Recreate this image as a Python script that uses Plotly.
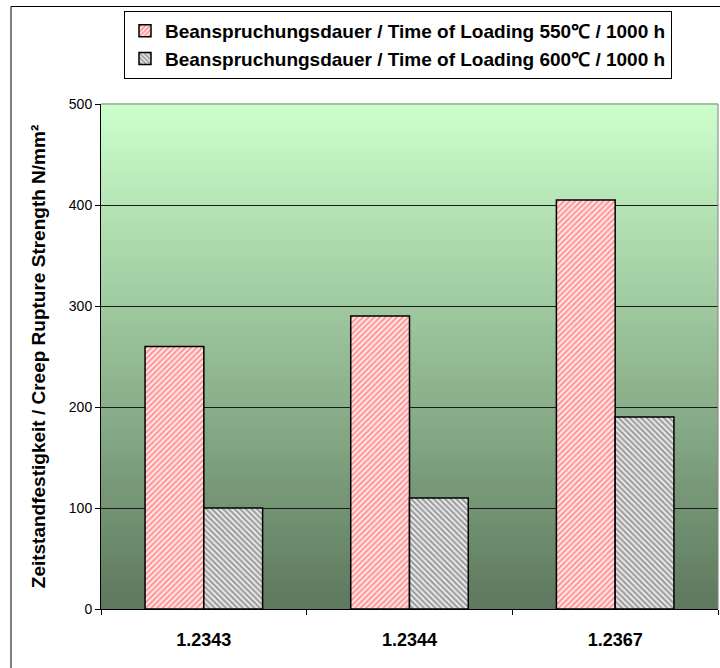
import plotly.graph_objects as go

# Creep rupture strength of hot-work tool steels after 1000 h
grades = ["1.2343", "1.2344", "1.2367"]
strength_550 = [260, 290, 405]
strength_600 = [100, 110, 190]
series_names = [
    "Beanspruchungsdauer / Time of Loading 550℃ / 1000 h",
    "Beanspruchungsdauer / Time of Loading 600℃ / 1000 h",
]
y_ticks = [0, 100, 200, 300, 400, 500]

W, H = 720, 668
ML, MR, MT, MB = 101, 2, 104, 59
PW = W - ML - MR
PH = H - MT - MB

FONT = "Arial, Liberation Sans, sans-serif"

fig = go.Figure()
fig.add_trace(go.Bar(
    x=grades, y=strength_550, name=series_names[0],
    marker=dict(color="white",
                line=dict(color="black", width=1.5),
                pattern=dict(shape="/", fgcolor="#ff4040", bgcolor="#fff4f4",
                             size=4, solidity=0.6)),
))
fig.add_trace(go.Bar(
    x=grades, y=strength_600, name=series_names[1],
    marker=dict(color="white",
                line=dict(color="black", width=1.5),
                pattern=dict(shape="\\", fgcolor="#4a4a4a", bgcolor="#f4f4f4",
                             size=4, solidity=0.6)),
))

# vertical green gradient behind the plot area
top = (204, 255, 204)
bot = (93, 120, 93)
n = 100
shapes = []
for i in range(n):
    t = (i + 0.5) / n
    c = tuple(round(bot[k] + (top[k] - bot[k]) * t) for k in range(3))
    shapes.append(dict(type="rect", xref="x domain", yref="y domain",
                       x0=0, x1=1, y0=i / n, y1=(i + 1) / n + 0.002,
                       fillcolor="rgb(%d,%d,%d)" % c, line=dict(width=0),
                       layer="below"))
# plot area border (top/right grey)
shapes.append(dict(type="line", xref="x domain", yref="y domain",
                   x0=0, x1=1, y0=1, y1=1, line=dict(color="#808080", width=1)))
shapes.append(dict(type="line", xref="x domain", yref="y domain",
                   x0=1, x1=1, y0=0, y1=1, line=dict(color="#808080", width=1)))
# chart frame
fx0 = (11 - ML) / PW
fy1 = (H - MB - 6.5) / PH
shapes.append(dict(type="rect", xref="paper", yref="paper",
                   x0=fx0, x1=1.2, y0=-0.3, y1=fy1,
                   line=dict(color="black", width=1), fillcolor="rgba(0,0,0,0)"))

fig.update_layout(
    width=W, height=H,
    margin=dict(l=ML, r=MR, t=MT, b=MB),
    paper_bgcolor="white",
    plot_bgcolor="white",
    barmode="group",
    bargap=1.5 / 3.5,
    bargroupgap=0,
    shapes=shapes,
    font=dict(family=FONT, color="black"),
    showlegend=True,
    legend=dict(
        x=(124 - ML) / PW, y=(H - MB - 11) / PH,
        xanchor="left", yanchor="top",
        bgcolor="white", bordercolor="black", borderwidth=1,
        font=dict(family=FONT, size=19, color="black", weight="bold"),
        tracegroupgap=0,
        itemwidth=30,
    ),
    xaxis=dict(
        showgrid=False, showline=True, linecolor="black", linewidth=1,
        ticks="outside", tickson="boundaries", ticklen=5, tickcolor="black",
        tickfont=dict(family=FONT, size=18, color="black", weight="bold"),
        ticklabelstandoff=14,
    ),
    yaxis=dict(
        range=[0, 500], tickvals=y_ticks,
        showgrid=True, gridcolor="#1a1a1a", gridwidth=1,
        showline=True, linecolor="black", linewidth=1,
        ticks="outside", ticklen=5, tickcolor="black",
        tickfont=dict(family=FONT, size=14, color="black"),
        zeroline=False,
        title=dict(text="Zeitstandfestigkeit / Creep Rupture Strength N/mm²",
                   font=dict(family=FONT, size=19, color="black", weight="bold"),
                   standoff=18),
    ),
)

fig.write_html("out.html")
